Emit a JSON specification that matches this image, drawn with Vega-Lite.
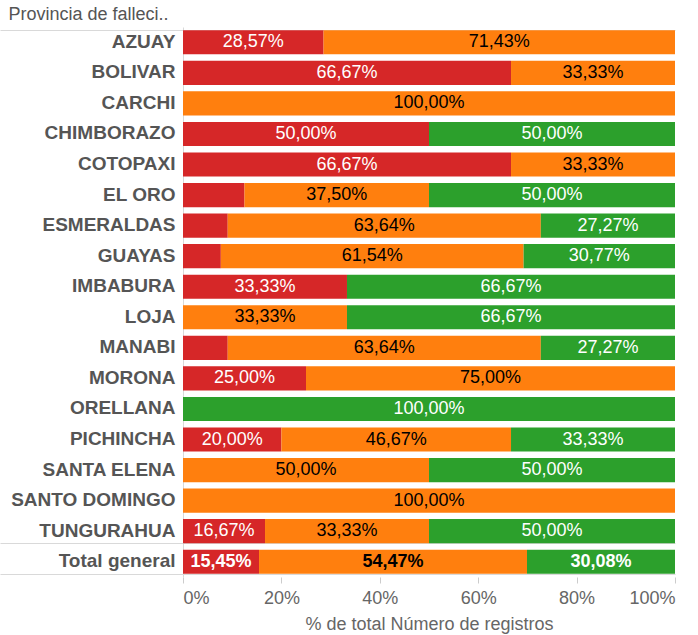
{
  "$schema": "https://vega.github.io/schema/vega-lite/v6.json",
  "width": 492,
  "height": 550,
  "autosize": {"type": "none"},
  "padding": {"left": 183, "top": 27, "right": 23, "bottom": 58},
  "background": "white",
  "config": {
    "view": {"stroke": null},
    "font": "Liberation Sans"
  },
  "data": {
    "values": [
      {"prov": "AZUAY", "g": "A", "pct": 0.2857},
      {"prov": "AZUAY", "g": "B", "pct": 0.7143},
      {"prov": "BOLIVAR", "g": "A", "pct": 0.6667},
      {"prov": "BOLIVAR", "g": "B", "pct": 0.3333},
      {"prov": "CARCHI", "g": "B", "pct": 1.0},
      {"prov": "CHIMBORAZO", "g": "A", "pct": 0.5},
      {"prov": "CHIMBORAZO", "g": "C", "pct": 0.5},
      {"prov": "COTOPAXI", "g": "A", "pct": 0.6667},
      {"prov": "COTOPAXI", "g": "B", "pct": 0.3333},
      {"prov": "EL ORO", "g": "A", "pct": 0.125},
      {"prov": "EL ORO", "g": "B", "pct": 0.375},
      {"prov": "EL ORO", "g": "C", "pct": 0.5},
      {"prov": "ESMERALDAS", "g": "A", "pct": 0.0909},
      {"prov": "ESMERALDAS", "g": "B", "pct": 0.6364},
      {"prov": "ESMERALDAS", "g": "C", "pct": 0.2727},
      {"prov": "GUAYAS", "g": "A", "pct": 0.0769},
      {"prov": "GUAYAS", "g": "B", "pct": 0.6154},
      {"prov": "GUAYAS", "g": "C", "pct": 0.3077},
      {"prov": "IMBABURA", "g": "A", "pct": 0.3333},
      {"prov": "IMBABURA", "g": "C", "pct": 0.6667},
      {"prov": "LOJA", "g": "B", "pct": 0.3333},
      {"prov": "LOJA", "g": "C", "pct": 0.6667},
      {"prov": "MANABI", "g": "A", "pct": 0.0909},
      {"prov": "MANABI", "g": "B", "pct": 0.6364},
      {"prov": "MANABI", "g": "C", "pct": 0.2727},
      {"prov": "MORONA", "g": "A", "pct": 0.25},
      {"prov": "MORONA", "g": "B", "pct": 0.75},
      {"prov": "ORELLANA", "g": "C", "pct": 1.0},
      {"prov": "PICHINCHA", "g": "A", "pct": 0.2},
      {"prov": "PICHINCHA", "g": "B", "pct": 0.4667},
      {"prov": "PICHINCHA", "g": "C", "pct": 0.3333},
      {"prov": "SANTA ELENA", "g": "B", "pct": 0.5},
      {"prov": "SANTA ELENA", "g": "C", "pct": 0.5},
      {"prov": "SANTO DOMINGO", "g": "B", "pct": 1.0},
      {"prov": "TUNGURAHUA", "g": "A", "pct": 0.1667},
      {"prov": "TUNGURAHUA", "g": "B", "pct": 0.3333},
      {"prov": "TUNGURAHUA", "g": "C", "pct": 0.5},
      {"prov": "Total general", "g": "A", "pct": 0.1545},
      {"prov": "Total general", "g": "B", "pct": 0.5447},
      {"prov": "Total general", "g": "C", "pct": 0.3008}
    ]
  },
  "transform": [
    {"stack": "pct", "groupby": ["prov"], "sort": [{"field": "g"}], "as": ["x0", "x1"]},
    {"calculate": "(datum.x0 + datum.x1) / 2", "as": "mid"},
    {"calculate": "replace(format(datum.pct, '.2%'), '.', ',')", "as": "label"}
  ],
  "encoding": {
    "y": {
      "field": "prov",
      "type": "nominal",
      "sort": ["AZUAY", "BOLIVAR", "CARCHI", "CHIMBORAZO", "COTOPAXI", "EL ORO", "ESMERALDAS", "GUAYAS", "IMBABURA", "LOJA", "MANABI", "MORONA", "ORELLANA", "PICHINCHA", "SANTA ELENA", "SANTO DOMINGO", "TUNGURAHUA", "Total general"],
      "scale": {"paddingInner": 0.21, "paddingOuter": 0.105},
      "axis": {
        "title": "Provincia de falleci..",
        "titleAngle": 0,
        "titleAlign": "left",
        "titleBaseline": "middle",
        "titleX": -175,
        "titleY": -13,
        "titleFontSize": 18,
        "titleFontWeight": "normal",
        "titleColor": "#555555",
        "labelFontSize": 19,
        "labelFontWeight": "bold",
        "labelColor": "#555555",
        "labelPadding": -175,
        "labelLimit": 300,
        "labelOffset": -1,
        "tickOffset": 2,
        "tickBand": "extent",
        "tickSize": 183,
        "tickColor": {"condition": {"test": "datum.value === 'TUNGURAHUA' || datum.value === 'Total general' || datum.extra", "value": "#d9d9d9"}, "value": "transparent"},
        "grid": true,
        "gridColor": {"condition": {"test": "datum.value === 'TUNGURAHUA' || datum.value === 'Total general' || datum.extra", "value": "#d9d9d9"}, "value": "transparent"},
        "domainColor": "#d9d9d9"
      }
    }
  },
  "layer": [
    {
      "mark": {"type": "bar"},
      "encoding": {
        "x": {
          "field": "x0",
          "type": "quantitative",
          "scale": {"domain": [0, 1], "nice": false},
          "axis": {
            "title": "% de total Número de registros",
            "titleFontSize": 18,
            "titleFontWeight": "normal",
            "titleColor": "#666666",
            "titlePadding": 8,
            "values": [0, 0.2, 0.4, 0.6, 0.8, 1],
            "format": ".0%",
            "labelFontSize": 18,
            "labelColor": "#666666",
            "labelPadding": 6,
            "tickColor": "#cccccc",
            "tickSize": 6,
            "domain": false,
            "grid": false
          }
        },
        "x2": {"field": "x1"},
        "color": {
          "field": "g",
          "type": "nominal",
          "scale": {"domain": ["A", "B", "C"], "range": ["#d62728", "#ff7f0e", "#2ca02c"]},
          "legend": null
        }
      }
    },
    {
      "transform": [{"filter": "datum.pct >= 0.14 && datum.prov !== 'Total general'"}],
      "mark": {"type": "text", "fontSize": 18, "baseline": "middle", "align": "center"},
      "encoding": {
        "x": {"field": "mid", "type": "quantitative"},
        "text": {"field": "label"},
        "color": {
          "condition": {"test": "datum.g === 'B'", "value": "#000000"},
          "value": "#ffffff"
        }
      }
    },
    {
      "transform": [{"filter": "datum.prov === 'Total general'"}],
      "mark": {"type": "text", "fontSize": 18, "fontWeight": "bold", "baseline": "middle", "align": "center"},
      "encoding": {
        "x": {"field": "mid", "type": "quantitative"},
        "text": {"field": "label"},
        "color": {
          "condition": {"test": "datum.g === 'B'", "value": "#000000"},
          "value": "#ffffff"
        }
      }
    }
  ]
}
